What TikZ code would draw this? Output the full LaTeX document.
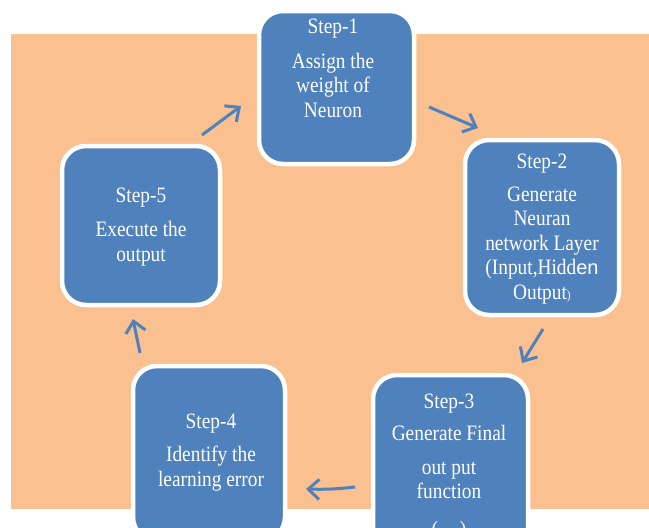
\documentclass[tikz,border=0pt]{standalone}
\usepackage{fontspec}
\setmainfont{Liberation Serif}[FakeStretch=0.88]
\newfontfamily\ensans{Liberation Sans}
\usetikzlibrary{arrows.meta}
\definecolor{stepblue}{HTML}{4F81BD}
\definecolor{bgorange}{HTML}{FAC090}
\tikzset{
  stepbox/.style={draw=white, line width=4.5pt, fill=stepblue, rounded corners=24pt, inner sep=0pt},
  steptext/.style={text=white, align=center, inner sep=0pt, font=\fontsize{22}{24.5}\selectfont},
  cyclearrow/.style={draw=stepblue, line width=3pt, -{Straight Barb[length=11pt,width=20pt]}}
}
\begin{document}
\begin{tikzpicture}[x=1pt,y=-1pt]
\clip (0,0) rectangle (649,528);
\fill[bgorange] (11,34) rectangle (649,509);
% boxes
\node[stepbox, minimum width=155pt, minimum height=153pt] (b1) at (336.5,87.5) {};
\node[stepbox, minimum width=154pt, minimum height=175pt] (b2) at (542,227.5) {};
\node[stepbox, minimum width=155pt, minimum height=185pt] (b3) at (450.5,467.5) {};
\node[stepbox, minimum width=152pt, minimum height=175pt] (b4) at (209,453.5) {};
\node[stepbox, minimum width=158pt, minimum height=159pt] (b5) at (141,225.5) {};
% texts
\node[steptext] (t1) at (333,68.5) {Step-1\\[10pt]Assign the\\weight of\\Neuron};
\node[steptext] (t2) at (542,229) {Step-2\\[8pt]Generate\\Neuran\\network Layer\\(Input,Hidd{\ensans\fontsize{20}{24}\selectfont en}\\Output{\fontsize{13}{13}\selectfont)}};
\node[steptext] (t3) at (449,446.5) {Step-3\\[8pt]Generate Final\\[9pt]out put\\function};
\node[steptext] (t3b) at (449,531) {(\quad)};
\node[steptext] (t4) at (211,452.5) {Step-4\\[9pt]Identify the\\learning error};
\node[steptext] (t5) at (141,227) {Step-5\\[10pt]Execute the\\output};
% connector ends
\coordinate (a1s) at (202,135); \coordinate (a1e) at (241,106);
\coordinate (a2s) at (429,107); \coordinate (a2e) at (478,128);
\coordinate (a3s) at (543,329); \coordinate (a3e) at (522,363);
\coordinate (a4s) at (355,487); \coordinate (a4e) at (306,489);
\coordinate (a5s) at (140,353); \coordinate (a5e) at (133,319);
\draw[cyclearrow] (a1s) -- (a1e);
\draw[cyclearrow] (a2s) -- (a2e);
\draw[cyclearrow] (a3s) -- (a3e);
\draw[cyclearrow] (a4s) to[bend left=4] (a4e);
\draw[cyclearrow] (a5s) -- (a5e);
\end{tikzpicture}
\end{document}
